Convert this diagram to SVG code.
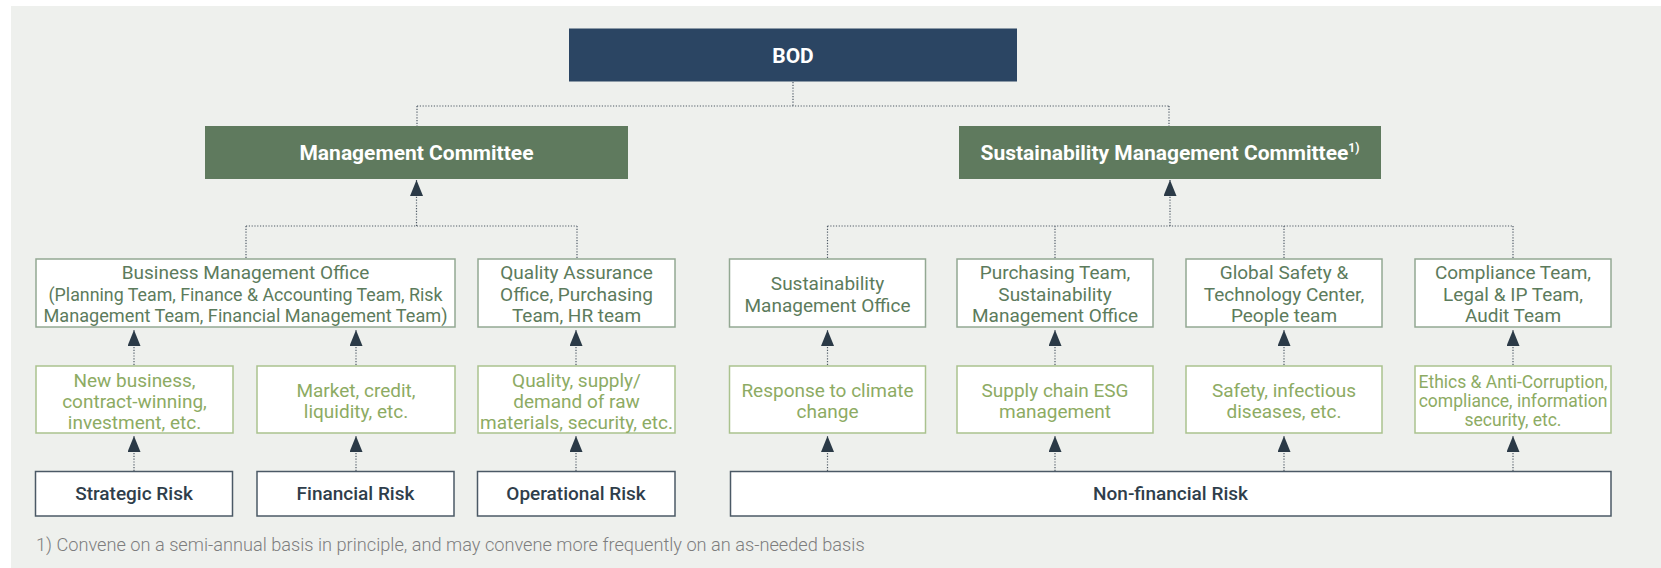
<svg xmlns="http://www.w3.org/2000/svg" width="1661" height="568" viewBox="0 0 1661 568">
<style>
text{font-family:Roboto,"Liberation Sans",sans-serif;text-anchor:middle}
.hd{fill:#fff;font-weight:700;font-size:21px}
.t1{fill:#5C7B5C;font-size:19px}
.t2{fill:#8DAB63;font-size:19px}
.t3{fill:#2F3E4B;font-size:19px;font-weight:500}
.b1{fill:#fff;stroke:#93A893;stroke-width:1.5}
.b2{fill:#fff;stroke:#AAC28E;stroke-width:1.5}
.b3{fill:#fff;stroke:#4B5966;stroke-width:1.5}
.dot{fill:none;stroke:#4F5A66;stroke-width:1.2;stroke-dasharray:1.2 1.6}
.foot{fill:#7D7D7D;font-size:18.2px;font-weight:300;text-anchor:start}
</style>
<defs>
<marker id="ah" markerUnits="userSpaceOnUse" markerWidth="16" markerHeight="13" refX="16" refY="6.5" orient="auto" viewBox="0 0 16 13">
<path d="M0,0 L16,6.5 L0,13 z" fill="#2B3A47"/>
</marker>
</defs>
<rect x="11" y="6" width="1650" height="562" fill="#EEF0ED"/>

<g id="connectors">
<path class="dot" d="M793,82 V106 M417,106 H1169 M417,106 V126 M1169,106 V126"/>
<path class="dot" d="M246,226 H577 M246,226 V259 M577,226 V259"/>
<path class="dot" d="M827.5,226 H1513 M827.5,226 V259 M1055,226 V259 M1284,226 V259 M1513,226 V259"/>
<line class="dot" x1="416.5" y1="226" x2="416.5" y2="180" marker-end="url(#ah)"/>
<line class="dot" x1="1170" y1="226" x2="1170" y2="180" marker-end="url(#ah)"/>
<line class="dot" x1="134" y1="365" x2="134" y2="330" marker-end="url(#ah)"/>
<line class="dot" x1="356" y1="365" x2="356" y2="330" marker-end="url(#ah)"/>
<line class="dot" x1="576" y1="365" x2="576" y2="330" marker-end="url(#ah)"/>
<line class="dot" x1="827.5" y1="365" x2="827.5" y2="330" marker-end="url(#ah)"/>
<line class="dot" x1="1055" y1="365" x2="1055" y2="330" marker-end="url(#ah)"/>
<line class="dot" x1="1284" y1="365" x2="1284" y2="330" marker-end="url(#ah)"/>
<line class="dot" x1="1513" y1="365" x2="1513" y2="330" marker-end="url(#ah)"/>
<line class="dot" x1="134" y1="471" x2="134" y2="436" marker-end="url(#ah)"/>
<line class="dot" x1="356" y1="471" x2="356" y2="436" marker-end="url(#ah)"/>
<line class="dot" x1="576" y1="471" x2="576" y2="436" marker-end="url(#ah)"/>
<line class="dot" x1="827.5" y1="471" x2="827.5" y2="436" marker-end="url(#ah)"/>
<line class="dot" x1="1055" y1="471" x2="1055" y2="436" marker-end="url(#ah)"/>
<line class="dot" x1="1284" y1="471" x2="1284" y2="436" marker-end="url(#ah)"/>
<line class="dot" x1="1513" y1="471" x2="1513" y2="436" marker-end="url(#ah)"/>
</g>

<g id="bod">
<rect x="569" y="28.5" width="448" height="53" fill="#2B4563"/>
<text class="hd" x="793" y="62.5">BOD</text>
</g>
<g id="mgmt-committee">
<rect x="205" y="126" width="423" height="53" fill="#5F7A5E"/>
<text class="hd" x="416.5" y="160">Management Committee</text>
</g>
<g id="sust-committee">
<rect x="959" y="126" width="422" height="53" fill="#5F7A5E"/>
<text class="hd" x="1170" y="160">Sustainability Management Committee<tspan font-size="12" dy="-8">1)</tspan></text>
</g>

<g id="business-office">
<rect class="b1" x="36" y="259" width="419" height="68"/>
<text class="t1"><tspan x="245.5" y="279">Business Management Office</tspan><tspan x="245.5" y="300.5" textLength="394" lengthAdjust="spacingAndGlyphs">(Planning Team, Finance &amp; Accounting Team, Risk</tspan><tspan x="245.5" y="322" textLength="404" lengthAdjust="spacingAndGlyphs">Management Team, Financial Management Team)</tspan></text>
</g>
<g id="qa-office">
<rect class="b1" x="478" y="259" width="197" height="68"/>
<text class="t1"><tspan x="576.5" y="279">Quality Assurance</tspan><tspan x="576.5" y="300.5">Office, Purchasing</tspan><tspan x="576.5" y="322">Team, HR team</tspan></text>
</g>
<g id="sust-office">
<rect class="b1" x="729.5" y="259" width="196" height="68"/>
<text class="t1"><tspan x="827.5" y="290">Sustainability</tspan><tspan x="827.5" y="312">Management Office</tspan></text>
</g>
<g id="purchasing">
<rect class="b1" x="957" y="259" width="196" height="68"/>
<text class="t1"><tspan x="1055" y="279">Purchasing Team,</tspan><tspan x="1055" y="300.5">Sustainability</tspan><tspan x="1055" y="322">Management Office</tspan></text>
</g>
<g id="global-safety">
<rect class="b1" x="1186" y="259" width="196" height="68"/>
<text class="t1"><tspan x="1284" y="279">Global Safety &amp;</tspan><tspan x="1284" y="300.5">Technology Center,</tspan><tspan x="1284" y="322">People team</tspan></text>
</g>
<g id="compliance">
<rect class="b1" x="1415" y="259" width="196" height="68"/>
<text class="t1"><tspan x="1513" y="279">Compliance Team,</tspan><tspan x="1513" y="300.5">Legal &amp; IP Team,</tspan><tspan x="1513" y="322">Audit Team</tspan></text>
</g>

<g id="strategic-items">
<rect class="b2" x="36" y="366" width="197" height="67"/>
<text class="t2"><tspan x="134.5" y="387">New business,</tspan><tspan x="134.5" y="408">contract-winning,</tspan><tspan x="134.5" y="429">investment, etc.</tspan></text>
</g>
<g id="financial-items">
<rect class="b2" x="257" y="366" width="198" height="67"/>
<text class="t2"><tspan x="356" y="397">Market, credit,</tspan><tspan x="356" y="418">liquidity, etc.</tspan></text>
</g>
<g id="operational-items">
<rect class="b2" x="478" y="366" width="197" height="67"/>
<text class="t2"><tspan x="576.5" y="387">Quality, supply/</tspan><tspan x="576.5" y="408">demand of raw</tspan><tspan x="576.5" y="429">materials, security, etc.</tspan></text>
</g>
<g id="climate-items">
<rect class="b2" x="729.5" y="366" width="196" height="67"/>
<text class="t2"><tspan x="827.5" y="397">Response to climate</tspan><tspan x="827.5" y="418">change</tspan></text>
</g>
<g id="supply-items">
<rect class="b2" x="957" y="366" width="196" height="67"/>
<text class="t2"><tspan x="1055" y="397">Supply chain ESG</tspan><tspan x="1055" y="418">management</tspan></text>
</g>
<g id="safety-items">
<rect class="b2" x="1186" y="366" width="196" height="67"/>
<text class="t2"><tspan x="1284" y="397">Safety, infectious</tspan><tspan x="1284" y="418">diseases, etc.</tspan></text>
</g>
<g id="ethics-items">
<rect class="b2" x="1415" y="366" width="196" height="67"/>
<text class="t2" style="font-size:17.5px"><tspan x="1513" y="387.5">Ethics &amp; Anti-Corruption,</tspan><tspan x="1513" y="406.5">compliance, information</tspan><tspan x="1513" y="425.5">security, etc.</tspan></text>
</g>

<g id="strategic-risk">
<rect class="b3" x="35.5" y="471.5" width="197" height="44.5"/>
<text class="t3" x="134" y="500">Strategic Risk</text>
</g>
<g id="financial-risk">
<rect class="b3" x="257" y="471.5" width="197" height="44.5"/>
<text class="t3" x="355.5" y="500">Financial Risk</text>
</g>
<g id="operational-risk">
<rect class="b3" x="477.5" y="471.5" width="197.5" height="44.5"/>
<text class="t3" x="576" y="500">Operational Risk</text>
</g>
<g id="nonfinancial-risk">
<rect class="b3" x="730.5" y="471.5" width="880.5" height="44.5"/>
<text class="t3" x="1170.5" y="500">Non-financial Risk</text>
</g>

<text class="foot" x="36" y="551">1) Convene on a semi-annual basis in principle, and may convene more frequently on an as-needed basis</text>
</svg>
